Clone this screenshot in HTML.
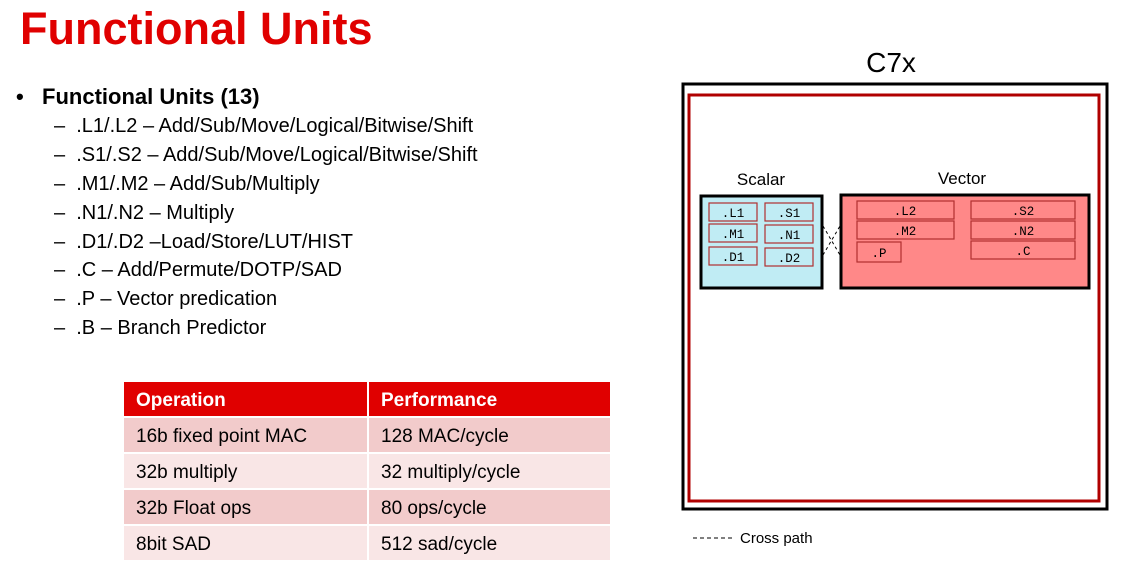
<!DOCTYPE html>
<html><head><meta charset="utf-8"><style>
body{margin:0;width:1146px;height:588px;background:#fff;font-family:"Liberation Sans",sans-serif;position:relative;overflow:hidden}
.a{position:absolute;white-space:nowrap}
h1{position:absolute;left:20px;top:3px;margin:0;font-size:45px;color:#e00000;font-weight:bold}
.b{font-size:20px;color:#000}
td{font-size:19px;padding:4px 0 0 12px;height:30px}
</style></head><body>
<h1>Functional Units</h1>
<div class="a" style="left:16px;top:84px;font-size:22px;font-weight:bold">•&nbsp;&nbsp;&nbsp;Functional Units (13)</div>
<div class="a b" style="left:54px;top:115px">–&nbsp;&nbsp;.L1/.L2 – Add/Sub/Move/Logical/Bitwise/Shift</div>
<div class="a b" style="left:54px;top:144px">–&nbsp;&nbsp;.S1/.S2 – Add/Sub/Move/Logical/Bitwise/Shift</div>
<div class="a b" style="left:54px;top:173px">–&nbsp;&nbsp;.M1/.M2 – Add/Sub/Multiply</div>
<div class="a b" style="left:54px;top:202px">–&nbsp;&nbsp;.N1/.N2 – Multiply</div>
<div class="a b" style="left:54px;top:231px">–&nbsp;&nbsp;.D1/.D2 –Load/Store/LUT/HIST</div>
<div class="a b" style="left:54px;top:259px">–&nbsp;&nbsp;.C – Add/Permute/DOTP/SAD</div>
<div class="a b" style="left:54px;top:288px">–&nbsp;&nbsp;.P – Vector predication</div>
<div class="a b" style="left:54px;top:317px">–&nbsp;&nbsp;.B – Branch Predictor</div>
<table style="position:absolute;left:122px;top:380px;border-collapse:separate;border-spacing:2px;width:490px">
<tr style="background:#e00000;color:#fff;font-weight:bold"><td style="width:231px">Operation</td><td>Performance</td></tr>
<tr style="background:#f2cbcb"><td>16b fixed point MAC</td><td>128 MAC/cycle</td></tr>
<tr style="background:#f9e6e6"><td>32b multiply</td><td>32 multiply/cycle</td></tr>
<tr style="background:#f2cbcb"><td>32b Float ops</td><td>80 ops/cycle</td></tr>
<tr style="background:#f9e6e6"><td>8bit SAD</td><td>512 sad/cycle</td></tr>
</table>
<svg width="1146" height="588" style="position:absolute;left:0;top:0" font-family="Liberation Sans, sans-serif">
<text x="891" y="72" font-size="28" text-anchor="middle">C7x</text>
<rect x="683" y="84" width="424" height="425" fill="none" stroke="#000" stroke-width="3"/>
<rect x="689" y="95" width="410" height="406" fill="none" stroke="#b00000" stroke-width="3"/>
<text x="761" y="185" font-size="17" text-anchor="middle">Scalar</text>
<text x="962" y="184" font-size="17" text-anchor="middle">Vector</text>
<rect x="701" y="196" width="121" height="92" fill="#c0ecf4" stroke="#000" stroke-width="3"/>
<rect x="841" y="195" width="248" height="93" fill="#ff8888" stroke="#000" stroke-width="3"/>
<g stroke="#000" stroke-dasharray="3,3" fill="none"><path d="M823 226L840 255M823 255L840 226"/></g>
<g fill="none" stroke="#b03030" stroke-width="1.2">
<rect x="709" y="203" width="48" height="18"/><rect x="765" y="203" width="48" height="18"/>
<rect x="709" y="224" width="48" height="18"/><rect x="765" y="225" width="48" height="18"/>
<rect x="709" y="247" width="48" height="18"/><rect x="765" y="248" width="48" height="18"/>
<rect x="857" y="201" width="97" height="18"/><rect x="971" y="201" width="104" height="18"/>
<rect x="857" y="221" width="97" height="18"/><rect x="971" y="221" width="104" height="18"/>
<rect x="857" y="242" width="44" height="20"/><rect x="971" y="241" width="104" height="18"/>
</g>
<g font-family="Liberation Mono, monospace" font-size="12.5" text-anchor="middle">
<text x="733" y="217">.L1</text><text x="789" y="217">.S1</text>
<text x="733" y="238">.M1</text><text x="789" y="239">.N1</text>
<text x="733" y="261">.D1</text><text x="789" y="262">.D2</text>
<text x="905" y="215">.L2</text><text x="1023" y="215">.S2</text>
<text x="905" y="235">.M2</text><text x="1023" y="235">.N2</text>
<text x="879" y="257">.P</text><text x="1023" y="255">.C</text>
</g>
<path d="M693 538H733" stroke="#000" stroke-dasharray="4,3"/>
<text x="740" y="543" font-size="15">Cross path</text>
</svg>
</body></html>
